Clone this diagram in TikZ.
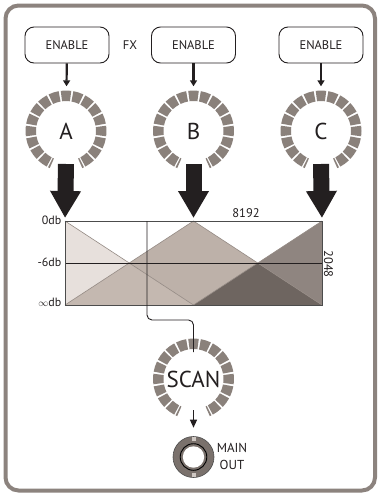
\documentclass[tikz,border=0pt]{standalone}
\usepackage{fontspec}
\setmainfont{PT Sans}
\usetikzlibrary{arrows.meta,calc}

\definecolor{framegray}{HTML}{8C837E}
\definecolor{dialgray}{HTML}{8A817B}
\definecolor{inkdark}{HTML}{231F20}
\definecolor{fillA}{HTML}{E7E0DC}
\definecolor{fillAB}{HTML}{C4B8B0}
\definecolor{fillB}{HTML}{BDB1A9}
\definecolor{fillBC}{HTML}{6E6560}
\definecolor{fillC}{HTML}{8F8580}
\definecolor{edgegray}{HTML}{958B85}
\definecolor{jackgray}{HTML}{7A716C}
\definecolor{jacktick}{HTML}{CFC8C3}

% segmented ring round a dial centre
\newcommand\drawdial[1]{%
  \foreach \a in {-234,-216,...,54}{%
    \fill[dialseg] ([shift={(#1)}]\a-7.5:30) arc[start angle=\a-7.5,end angle=\a+7.5,radius=30]
      -- ([shift={(#1)}]\a+7.5:40.5) arc[start angle=\a+7.5,end angle=\a-7.5,radius=40.5] -- cycle;}
  \foreach \a in {65,115}{%
    \fill[dialseg] ([shift={(#1)}]\a-1.3:30) arc[start angle=\a-1.3,end angle=\a+1.3,radius=30]
      -- ([shift={(#1)}]\a+1.3:40.5) arc[start angle=\a+1.3,end angle=\a-1.3,radius=40.5] -- cycle;}
}

\begin{document}
\begin{tikzpicture}[x=1pt,y=-1pt,
  frame/.style={draw=framegray,line width=4pt,rounded corners=13pt},
  enablebox/.style={draw=inkdark,line width=0.9pt,rounded corners=9pt,minimum width=84pt,
    minimum height=36pt,inner sep=0pt,font=\fontsize{12.5}{13}\selectfont,text=inkdark},
  label/.style={inner sep=0pt,text=inkdark,font=\fontsize{12}{12}\selectfont},
  dial/.style={circle,minimum size=81pt,inner sep=0pt,text=inkdark},
  dialseg/.style={fill=dialgray},
  enarrow/.style={draw=inkdark,line width=2.2pt,-{Triangle[width=7pt,length=6pt]}},
  bigarrow/.style={draw=inkdark,line width=16pt,-{Triangle[width=29pt,length=27pt]}},
  outarrow/.style={draw=inkdark,line width=1.1pt,-{Triangle[width=7pt,length=8pt]}},
  edge/.style={draw=edgegray,line width=0.6pt},
  scanline/.style={draw=inkdark,line width=0.9pt,rounded corners=5pt},
]
\useasboundingbox (0,0) rectangle (380,496);
\fill[white] (0,0) rectangle (380,496);
\draw[frame] (5.5,5.5) rectangle (375,490.5);

% enable buttons and FX label
\node[enablebox] (eA) at (67,45) {ENABLE};
\node[enablebox] (eB) at (193.5,45) {ENABLE};
\node[enablebox] (eC) at (321,45) {ENABLE};
\node[label,font=\fontsize{12.5}{13}\selectfont] (fx) at (130,45) {FX};

% dials
\node[dial,font=\fontsize{23}{23}\selectfont] (kA) at (66,131) {A};
\node[dial,font=\fontsize{23}{23}\selectfont] (kB) at (193.5,131) {B};
\node[dial,font=\fontsize{23}{23}\selectfont] (kC) at (321,131) {C};
\node[dial,font=\fontsize{23}{23}\selectfont] (kS) at (193.5,379) {SCAN};
\drawdial{kA}
\drawdial{kB}
\drawdial{kC}
\drawdial{kS}

\draw[enarrow,shorten >=4pt] (eA) -- (kA);
\draw[enarrow,shorten >=4pt] (eB) -- (kB);
\draw[enarrow,shorten >=4pt] (eC) -- (kC);

% crossfade chart
\coordinate (tl) at (65,221);
\coordinate (tm) at (193.5,221);
\coordinate (tr) at (322,221);
\coordinate (bl) at (65,305);
\coordinate (bm) at (193.5,305);
\coordinate (br) at (322,305);
\coordinate (ml) at (65,263);
\coordinate (mr) at (322,263);
\coordinate (x1) at (129.25,263);
\coordinate (x2) at (257.75,263);
\fill[fillA] (tl) -- (x1) -- (bl) -- cycle;
\fill[fillAB] (bl) -- (x1) -- (bm) -- cycle;
\fill[fillB] (x1) -- (tm) -- (x2) -- (bm) -- cycle;
\fill[fillBC] (bm) -- (x2) -- (br) -- cycle;
\fill[fillC] (x2) -- (tr) -- (br) -- cycle;
\draw[edge] (tl) -- (bm) (bl) -- (tm) -- (br) (bm) -- (tr);
\draw[draw=inkdark,line width=0.9pt] (ml) -- (mr);
\draw[draw=black!70,line width=0.9pt] (tl) rectangle (br);

\node[label,anchor=east] (l0) at (61.5,220) {0db};
\node[label,anchor=east] (l6) at (61.5,262) {-6db};
\node[label,anchor=east] (linf) at (61.5,302) {{\fontsize{10}{10}\selectfont$\infty$}db};
\node[label,font=\fontsize{12.5}{12.5}\selectfont] (top) at (246,213) {8192};
\node[label,font=\fontsize{12.5}{12.5}\selectfont,rotate=-90] (side) at (328.5,264) {2048};

% large arrows from dials to the chart
\draw[bigarrow,shorten >=3pt] ($(kA.center)+(0,33)$) -- (tl);
\draw[bigarrow,shorten >=3pt] ($(kB.center)+(0,33)$) -- (tm);
\draw[bigarrow,shorten >=3pt] ($(kC.center)+(0,33)$) -- (tr);

% scan position line into the SCAN dial
\coordinate (tap) at (147,221);
\draw[scanline] (tap) -- (147,320) -- (193.5,320) -- ($(kS.center)+(0,-27)$);

% output jack
\node[circle,minimum size=41pt,inner sep=0pt,fill=jackgray,draw=black!70,line width=0.6pt] (jack) at (193.5,457) {};
\fill[jacktick] ($(jack.center)+(-2,-20)$) rectangle ($(jack.center)+(2,-16)$);
\fill[jacktick] ($(jack.center)+(-2,16)$) rectangle ($(jack.center)+(2,20)$);
\draw[black,line width=0.9pt] (jack.center) circle[radius=13.3];
\fill[white] (jack.center) circle[radius=10.7];
\node[label,align=center,font=\fontsize{13}{17}\selectfont] (out) at (232,456) {MAIN\\OUT};
\draw[outarrow,shorten >=8.5pt] ($(kS.center)+(0,31)$) -- (jack);
\end{tikzpicture}
\end{document}
